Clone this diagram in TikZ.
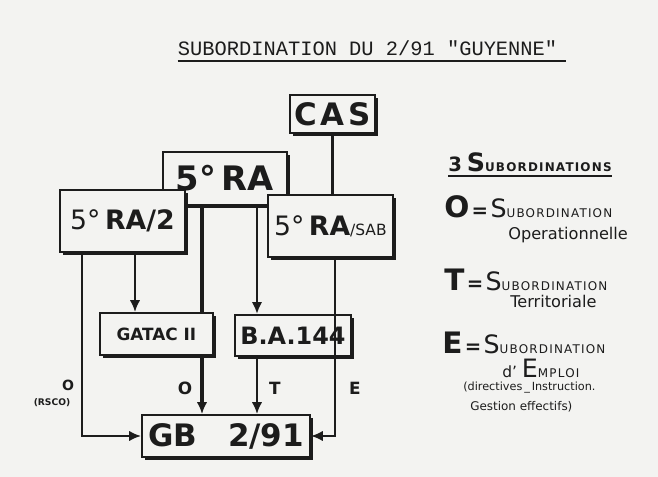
\documentclass[tikz,border=0pt]{standalone}
\usepackage{fontspec}
\setmainfont{DejaVu Sans}
\newfontfamily\typefont{Liberation Mono}
\usetikzlibrary{arrows.meta,shadows}
\definecolor{GYInk}{HTML}{1C1C1C}
\definecolor{GYPaper}{HTML}{F3F3F1}
\newcommand{\hsc}[2]{{\fsz{18}#1}{\fsz{8.5}\addfontfeature{LetterSpace=10}#2}}
\newcommand{\fsz}[1]{\fontsize{#1}{#1}\selectfont}
\begin{document}
\begin{tikzpicture}[x=1cm,y=1cm,
  unitbox/.style={draw=GYInk,fill=GYPaper,line width=1.3pt,inner sep=0pt,text=GYInk,
    drop shadow={shadow xshift=2.4pt,shadow yshift=-2.4pt,fill=GYInk,opacity=1}},
  link/.style={draw=GYInk,line width=2pt},
  arrowlink/.style={link,-{Latex[length=8.5pt,width=7.5pt]}},
  letter/.style={font=\bfseries\fsz{12},text=GYInk,inner sep=0pt},
  legend/.style={anchor=west,inner sep=0pt,text=GYInk}]
\path[use as bounding box,fill=GYPaper] (0,0) rectangle (16.45,11.925);
\node[text=GYInk,inner sep=0pt,font=\typefont\fsz{14.5}] (title) at (9.19,10.725) {SUBORDINATION DU 2/91 \textquotedbl GUYENNE\textquotedbl};
\draw[GYInk,line width=1.5pt] ([yshift=-4pt]title.south west) -- ([yshift=-4pt,xshift=6pt]title.south east);
\node[unitbox,minimum width=2.125cm,minimum height=0.95cm,font=\bfseries\fsz{22}] (cas) at (8.31,9.075) {\addfontfeature{LetterSpace=12}CAS};
\node[unitbox,minimum width=3.1cm,minimum height=1.325cm,font=\bfseries\fsz{24}] (ra) at (5.625,7.46) {5°\,RA};
\node[unitbox,minimum width=3.125cm,minimum height=1.55cm,font=\bfseries\fsz{19}] (ra2) at (3.06,6.40) {{\mdseries 5°}\,RA/2};
\node[unitbox,minimum width=3.125cm,minimum height=1.55cm,font=\bfseries\fsz{19}] (rasab) at (8.26,6.275) {{\mdseries 5°}\,RA{\mdseries\fsz{11}/SAB}};
\node[unitbox,minimum width=2.825cm,minimum height=1.05cm,font=\bfseries\fsz{12}] (gatac) at (3.91,3.575) {GATAC II};
\node[unitbox,minimum width=2.9cm,minimum height=1.025cm,font=\bfseries\fsz{17}] (ba) at (7.325,3.54) {B.A.144};
\node[unitbox,minimum width=4.2cm,minimum height=1.05cm,font=\bfseries\fsz{22}] (gb) at (5.65,1.025) {GB\quad 2/91};
\coordinate (colL) at (2.05,0);
\coordinate (colG) at (3.375,0);
\coordinate (colO) at (5.05,0);
\coordinate (colT) at (6.425,0);
\coordinate (colE) at (8.375,0);
\draw[link] (cas.south) -- (rasab.north -| cas.south);
\draw[arrowlink] (ra2.south -| colL) |- (gb.west);
\draw[arrowlink] (ra2.south -| colG) -- (gatac.north -| colG);
\draw[link,line width=2.6pt] (ra.south -| colO) -- (gatac.north -| colO);
\draw[arrowlink,line width=2.6pt] (gatac.south -| colO) -- (gb.north -| colO);
\draw[arrowlink] (ra.south -| colT) -- (ba.north -| colT);
\draw[arrowlink] (ba.south -| colT) -- (gb.north -| colT);
\draw[arrowlink] (rasab.south -| colE) |- (gb.east);
\node[letter,font=\bfseries\fsz{10}] (lblOL) at (1.70,2.30) {O};
\node[letter,font=\bfseries\fsz{6.5}] (lblRsco) at (1.30,1.85) {(RSCO)};
\node[letter] (lblO) at (4.625,2.225) {O};
\node[letter] (lblT) at (6.875,2.225) {T};
\node[letter] (lblE) at (8.875,2.225) {E};
\node[legend,font=\bfseries] (lgHead) at (11.2,7.875) {{\fsz{14}3}\ \hsc{S}{UBORDINATIONS}};
\draw[GYInk,line width=2pt] ([yshift=-3pt]lgHead.south west) -- ([yshift=-3pt]lgHead.south east);
\node[legend] (lgO) at (11.1,6.75) {{\bfseries\fsz{21}O}\,{\bfseries\fsz{14}=}\,\hsc{S}{UBORDINATION}};
\node[legend,font=\fsz{11.5}] (lgOd) at (12.7,6.05) {Operationnelle};
\node[legend] (lgT) at (11.1,4.925) {{\bfseries\fsz{21}T}\,{\bfseries\fsz{14}=}\,\hsc{S}{UBORDINATION}};
\node[legend,font=\fsz{11.5}] (lgTd) at (12.75,4.4) {Territoriale};
\node[legend] (lgE) at (11.05,3.35) {{\bfseries\fsz{21}E}\,{\bfseries\fsz{14}=}\,\hsc{S}{UBORDINATION}};
\node[legend,font=\fsz{11}] (lgEd) at (12.55,2.725) {d' \hsc{E}{MPLOI}};
\node[legend,font=\fsz{8}] (lgEn) at (11.575,2.225) {(directives\,\_\,Instruction.};
\node[legend,font=\fsz{8.5}] (lgEg) at (11.75,1.75) {Gestion effectifs)};
\end{tikzpicture}
\end{document}
